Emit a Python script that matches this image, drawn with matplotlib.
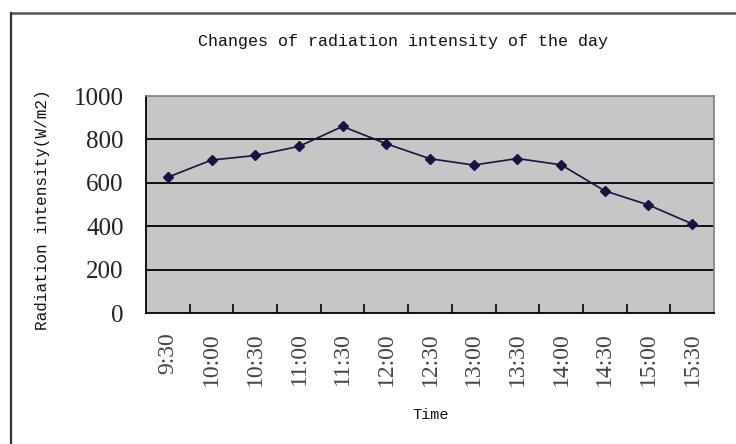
import matplotlib
matplotlib.use('Agg')
import matplotlib.pyplot as plt
from matplotlib.lines import Line2D
import numpy as np

# data
times = ['9:30', '10:00', '10:30', '11:00', '11:30', '12:00', '12:30',
         '13:00', '13:30', '14:00', '14:30', '15:00', '15:30']
intensity = [626, 705, 726, 768, 860, 780, 711, 682, 712, 683, 563, 498, 411]
y_ticks = [0, 200, 400, 600, 800, 1000]

mono = 'Liberation Mono'
serif = 'Liberation Serif'

fig = plt.figure(figsize=(7.36, 4.44), dpi=100)
fig.patch.set_facecolor('white')

# chart frame (top and left edges only are visible in the reference)
fig.add_artist(Line2D([0.015, 1.0], [0.971, 0.971], transform=fig.transFigure,
                      color='#555555', lw=1.8))
fig.add_artist(Line2D([0.015, 0.015], [0.0, 0.971], transform=fig.transFigure,
                      color='#333333', lw=1.6))

ax = fig.add_axes([0.1984, 0.295, 0.7717, 0.4887])
ax.set_facecolor('#c6c6c6')

x = np.arange(len(times))
ax.plot(x, intensity, color='#151540', lw=1.2, marker='D', markersize=5.5,
        markerfacecolor='#151545', markeredgecolor='#151545', zorder=3)

ax.set_xlim(-0.5, len(times) - 0.5)
ax.set_ylim(0, 1000)

ax.set_yticks(y_ticks)
ax.set_yticklabels([str(v) for v in y_ticks], fontfamily=serif, fontsize=18)
ax.tick_params(axis='y', length=0, pad=16, colors='#222222')
for v in y_ticks[1:-1]:
    ax.axhline(v, color='black', lw=1.3, zorder=1)

ax.set_xticks(x)
ax.set_xticklabels(times, rotation=90, fontfamily=serif, fontsize=17,
                   va='top', color='#444444')
ax.tick_params(axis='x', which='major', length=0, pad=14)
ax.set_xticks(np.arange(0.5, len(times) - 1, 1), minor=True)
ax.tick_params(axis='x', which='minor', direction='in', length=6.5,
               width=1.2, color='black')

for side in ['top', 'right']:
    ax.spines[side].set_color('#808080')
    ax.spines[side].set_linewidth(1.2)
for side in ['left', 'bottom']:
    ax.spines[side].set_color('black')
    ax.spines[side].set_linewidth(1.3)

fig.text(0.547, 0.906, 'Changes of radiation intensity of the day',
         ha='center', va='center', fontfamily=mono, fontsize=12,
         color='#111111')
fig.text(0.058, 0.527, 'Radiation intensity(W/m2)', rotation=90,
         ha='center', va='center', fontfamily=mono, fontsize=11.5,
         color='#111111')
fig.text(0.585, 0.065, 'Time', ha='center', va='center',
         fontfamily=mono, fontsize=11, color='#111111')

fig.savefig('out.png', dpi=100)
